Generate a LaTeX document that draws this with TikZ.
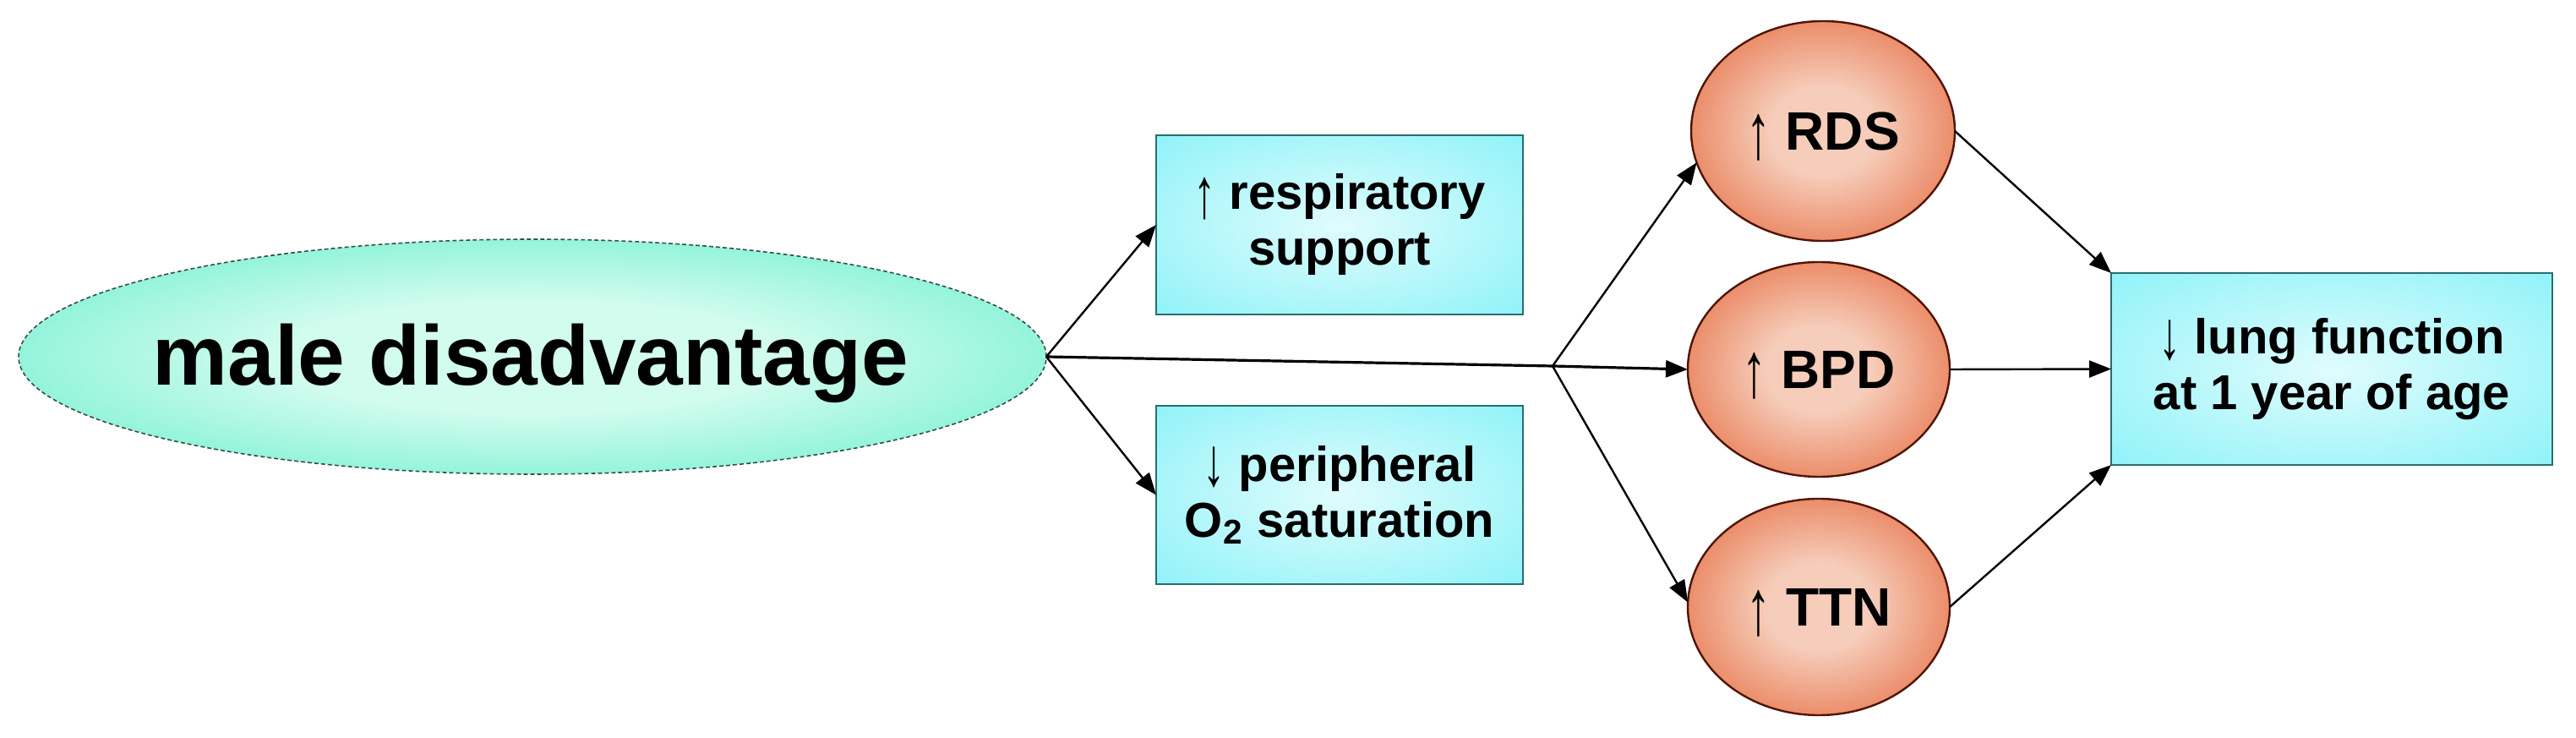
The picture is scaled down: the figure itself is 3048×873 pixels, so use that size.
\documentclass[tikz,border=0pt]{standalone}
\usepackage{fontspec}
\setmainfont{Liberation Sans}
\usetikzlibrary{shapes.geometric,arrows.meta}
\definecolor{ellin}{RGB}{210,252,238}
\definecolor{ellout}{RGB}{55,232,190}
\definecolor{ellline}{RGB}{50,80,70}
\definecolor{boxin}{RGB}{224,252,253}
\definecolor{boxout}{RGB}{138,242,248}
\definecolor{boxline}{RGB}{40,110,110}
\definecolor{discin}{RGB}{246,205,186}
\definecolor{discmid}{RGB}{230,112,70}
\definecolor{discout}{RGB}{205,58,20}
\definecolor{discline}{RGB}{80,20,5}
\pgfdeclareradialshading{ellshade}{\pgfpoint{0bp}{0bp}}{color(0bp)=(ellin); color(12bp)=(ellin); color(45bp)=(ellout); color(50bp)=(ellout)}
\pgfdeclareradialshading{boxshade}{\pgfpoint{0bp}{0bp}}{color(0bp)=(boxin); color(38bp)=(boxout); color(50bp)=(boxout)}
\pgfdeclareradialshading{discshade}{\pgfpoint{0bp}{0bp}}{color(0bp)=(discin); color(10bp)=(discin); color(32bp)=(discmid); color(44bp)=(discout); color(50bp)=(discout)}
\newcommand{\uparr}{{\mdseries\smash{\raisebox{-0.17em}{\scalebox{0.9}[1.45]{↑}}}}}
\newcommand{\dnarr}{{\mdseries\smash{\raisebox{-0.1em}{\scalebox{0.9}[1.4]{↓}}}}}
\begin{document}
\begin{tikzpicture}[x=0.25pt,y=-0.25pt,
  ell/.style={ellipse, draw=ellline, line width=0.4pt, dash pattern=on 1.2pt off 0.8pt,
    shading=ellshade,
    minimum width=304pt, minimum height=69.5pt, inner sep=0pt, outer sep=0pt},
  bigtext/.style={inner sep=0pt, font=\bfseries\fontsize{25}{30}\selectfont},
  cbox/.style={rectangle, draw=boxline, line width=0.5pt,
    shading=boxshade,
    inner sep=0pt, outer sep=0pt, align=center,
    font=\bfseries\fontsize{14.5}{16.5}\selectfont},
  dis/.style={ellipse, draw=discline, line width=0.6pt,
    shading=discshade,
    inner sep=0pt, outer sep=0pt,
    font=\bfseries\fontsize{16}{19}\selectfont},
  conn/.style={-{Triangle[length=6.5pt,width=5pt]}, line width=0.6pt, draw=black}
]
\useasboundingbox (0,0) rectangle (3048,873);
\node[ell] (male) at (630,422) {};
\node[bigtext] (maletxt) at (628,430) {male disadvantage};
\node[cbox, minimum width=108.5pt, minimum height=53pt] (resp) at (1585,266) {\uparr\ respiratory\\support};
\node[cbox, minimum width=108.5pt, minimum height=52.75pt] (oxy) at (1585,585.5) {\dnarr\ peripheral\\O\textsubscript{2} saturation};
\node[dis, minimum width=78pt, minimum height=65pt] (rds) at (2157,155) {\uparr\ RDS};
\node[dis, minimum width=77.5pt, minimum height=63.5pt] (bpd) at (2152,437) {\uparr\ BPD};
\node[dis, minimum width=77.5pt, minimum height=64pt] (ttn) at (2152,718) {\uparr\ TTN};
\node[cbox, minimum width=130.5pt, minimum height=56.75pt] (lung) at (2759,436.5) {\dnarr\ lung function\\at 1 year of age};
\coordinate (br) at (1837,433);
\draw[conn] (male.east) -- (resp.west);
\draw[conn] (male.east) -- (oxy.west);
\draw[conn, line width=0.8pt] (male.east) -- (br) -- (bpd.west);
\draw[conn] (br) -- (rds.194);
\draw[conn] (br) -- (ttn.178);
\draw[conn] (rds.east) -- (lung.north west);
\draw[conn] (bpd.east) -- (lung.west);
\draw[conn] (ttn.east) -- (lung.south west);
\end{tikzpicture}
\end{document}
